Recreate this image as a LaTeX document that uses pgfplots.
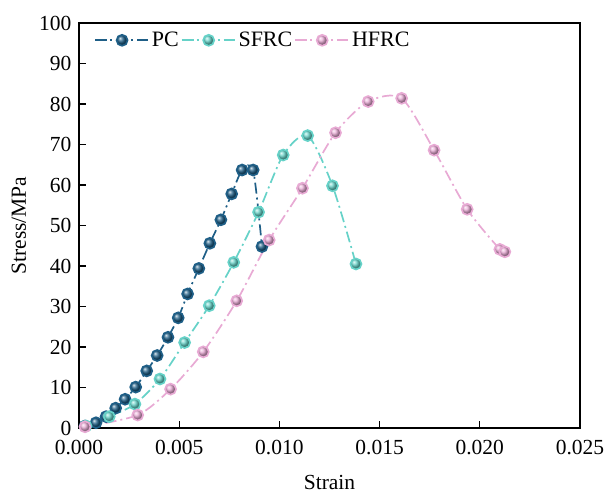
\documentclass[border=0pt]{standalone}
\usepackage{fontspec}
\setmainfont{Liberation Serif}
\usepackage{pgfplots}
\pgfplotsset{compat=1.18}
\definecolor{pcC}{RGB}{31,95,135}
\definecolor{sfC}{RGB}{102,210,200}
\definecolor{hfC}{RGB}{232,170,212}
\begin{document}
\begin{tikzpicture}
\begin{axis}[
  scale only axis, width=501bp, height=405bp,
  xmin=0, xmax=0.025, ymin=0, ymax=100,
  xtick={0,0.005,0.010,0.015,0.020,0.025},
  ytick={0,10,...,100},
  scaled x ticks=false,
  xticklabel style={yshift=-9bp, /pgf/number format/fixed, /pgf/number format/fixed zerofill, /pgf/number format/precision=3},
  /pgf/number format/assume math mode=true,
  tick label style={font=\fontsize{21.5bp}{25bp}\selectfont},
  yticklabel style={xshift=-4bp},
  label style={font=\fontsize{21.5bp}{25bp}\selectfont},
  xtick pos=bottom, ytick pos=left,
  tick align=inside, major tick length=7bp,
  axis line style={line width=1.4bp},
  every tick/.style={line width=1.2bp, black},
  xlabel={Strain}, ylabel={Stress/MPa},
  xlabel style={at={(axis description cs:0.5,-0.135)}, anchor=center},
  ylabel style={at={(axis description cs:-0.12,0.5)}, anchor=center},
  legend columns=3,
  legend style={draw=none, fill=none, at={(axis description cs:0.028,0.985)}, anchor=north west,
    font=\fontsize{22bp}{26bp}\selectfont, column sep=0pt, inner sep=1bp,
    nodes={inner sep=2bp}},
  legend image code/.code={\draw[mark repeat=2,mark phase=2,#1] plot coordinates {(0bp,0bp) (27bp,0bp) (54bp,0bp)};},
  every axis plot/.append style={smooth, tension=0.45, line width=1.7bp,
    dash pattern=on 11bp off 4bp on 2bp off 4bp},
]
\addplot[color=pcC, mark=ball, mark size=5.5bp, mark options={solid, ball color=pcC}] coordinates {
(0.0003,0.5) (0.00085,1.3) (0.00135,2.8) (0.00183,4.9) (0.0023,7.1) (0.00283,10.1)
(0.00338,14.1) (0.0039,17.9) (0.00444,22.4) (0.00495,27.2) (0.00542,33.1) (0.00598,39.4)
(0.00653,45.6) (0.00708,51.4) (0.00762,57.8) (0.00814,63.7) (0.00869,63.7) (0.00913,44.8)};
\addlegendentry{PC}
\addplot[color=sfC, mark=ball, mark size=5.5bp, mark options={solid, ball color=sfC}] coordinates {
(0.00035,0.5) (0.00151,2.8) (0.00279,5.9) (0.00404,12.1) (0.00527,21.1) (0.0065,30.2)
(0.00772,40.9) (0.00896,53.3) (0.01019,67.4) (0.01141,72.2) (0.01265,59.8) (0.01382,40.5)};
\addlegendentry{SFRC}
\addplot[color=hfC, mark=ball, mark size=5.5bp, mark options={solid, ball color=hfC}] coordinates {
(0.0003,0.3) (0.00293,3.2) (0.00457,9.6) (0.0062,18.8) (0.00787,31.4) (0.00949,46.4)
(0.01115,59.2) (0.0128,72.9) (0.01443,80.6) (0.0161,81.4) (0.01772,68.6) (0.01937,54.0)
(0.021,44.1) (0.02125,43.5)};
\addlegendentry{HFRC}
\end{axis}
\pgfresetboundingbox
\path (current axis.south west) ++(-79bp,-65bp) rectangle ++(607bp,493bp);
\end{tikzpicture}
\end{document}
